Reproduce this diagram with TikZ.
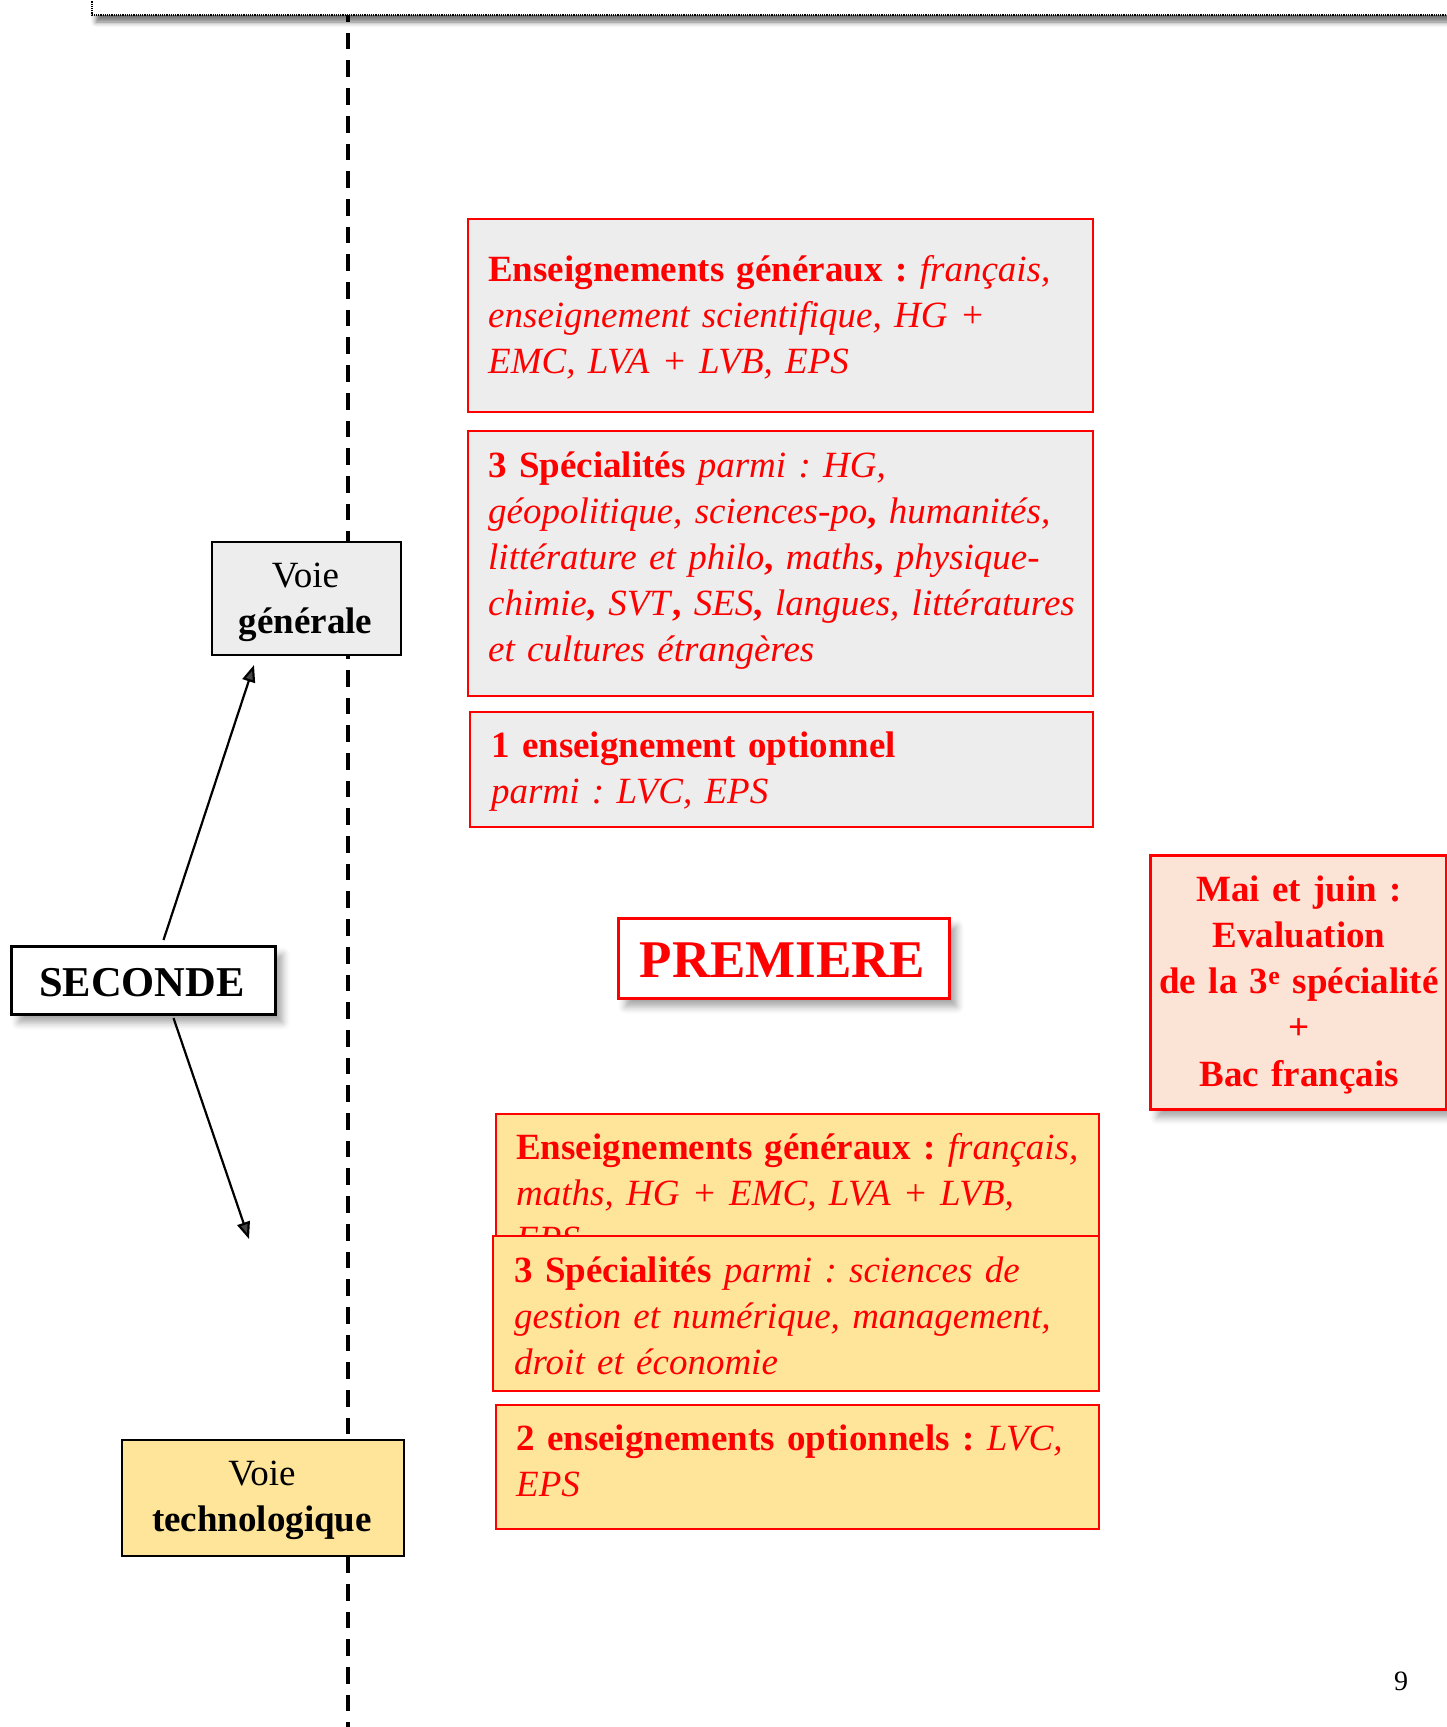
\documentclass[tikz,border=0pt]{standalone}
\usepackage{fontspec}
\setmainfont{Liberation Serif}
\usetikzlibrary{shadows.blur,arrows.meta}
\definecolor{gfill}{HTML}{EDEDED}
\definecolor{yfill}{HTML}{FFE599}
\definecolor{pfill}{HTML}{FBE4D5}
\definecolor{tred}{HTML}{FF0000}
\frenchspacing
\tikzset{
  redbox/.style={draw=tred, line width=2pt, rectangle, inner sep=0pt, anchor=north west},
  graybox/.style={redbox, fill=gfill},
  yelbox/.style={redbox, fill=yfill},
  voiebox/.style={draw=black, line width=2pt, rectangle, inner sep=0pt, anchor=north west},
  softshadow/.style={blur shadow={shadow xshift=7pt, shadow yshift=-8pt, shadow blur radius=7pt, shadow opacity=35}},
  bodytxt/.style={text=tred, inner sep=0pt, anchor=base west, align=left, text width=640pt,
    font=\fontsize{37}{46}\selectfont\frenchspacing},
  centertxt/.style={inner sep=0pt, anchor=base, align=center, text width=420pt,
    font=\fontsize{37}{46}\selectfont\frenchspacing},
  arr/.style={line width=2.2pt, -{Triangle[length=17pt,width=13pt]}},
  vline/.style={line width=3.5pt, dash pattern=on 16.7pt off 11pt},
}
\begin{document}
\begin{tikzpicture}[x=1pt,y=-1pt]
\useasboundingbox (0,0) rectangle (1446,1727);
% vertical dashed separator
\coordinate (vtop) at (348,5);
\coordinate (vbot) at (348,1727);
\draw[vline] (vtop) -- (vbot);
% top frame edge
\path[fill=white, draw=black, densely dotted, line width=1.2pt,
  blur shadow={shadow xshift=4pt, shadow yshift=-7pt, shadow blur radius=5pt, shadow opacity=55}]
  (92,-80) rectangle (1560,15);

% Voie generale
\node[voiebox, fill=gfill, minimum width=189pt, minimum height=113pt] (vg) at (211,541) {};
\node[centertxt] (vgt) at (305.5,587) {Voie\\\textbf{générale}};
% SECONDE
\node[draw=black, line width=3pt, fill=white, rectangle, inner sep=0pt, anchor=north west,
  minimum width=264pt, minimum height=68pt, softshadow] (sec) at (10,945) {};
\node[inner sep=0pt, anchor=base, font=\fontsize{42.5}{46}\selectfont\bfseries] (sect) at (142,996) {SECONDE};
% Voie technologique
\node[voiebox, fill=yfill, minimum width=282pt, minimum height=116pt] (vt) at (121,1439) {};
\node[centertxt] (vtt) at (262,1485) {Voie\\\textbf{technologique}};

% arrows
\coordinate (t2) at (249,1239);
\draw[arr] ([xshift=20pt,yshift=5pt]sec.north) -- ([xshift=-52.5pt,yshift=-9pt]vg.south);
\draw[arr] ([xshift=30pt,yshift=-2pt]sec.south) -- (t2);

% voie generale boxes
\node[graybox, minimum width=625pt, minimum height=193pt] (g1) at (467,218) {};
\node[bodytxt] (g1t) at (488,281) {\textbf{Enseignements généraux :} \textit{français,}\\
  \textit{enseignement scientifique, HG +}\\
  \textit{EMC, LVA + LVB, EPS}};
\node[graybox, minimum width=625pt, minimum height=265pt] (g2) at (467,430) {};
\node[bodytxt] (g2t) at (488,477) {\textbf{3 Spécialités} \textit{parmi : HG,}\\
  \textit{géopolitique, sciences-po}\textbf{,} \textit{humanités,}\\
  \textit{littérature et philo}\textbf{,} \textit{maths}\textbf{,} \textit{physique-}\\
  \textit{chimie}\textbf{,} \textit{SVT}\textbf{,} \textit{SES}\textbf{,} \textit{langues, littératures}\\
  \textit{et cultures étrangères}};
\node[graybox, minimum width=623pt, minimum height=115pt] (g3) at (469,711) {};
\node[bodytxt] (g3t) at (491,757) {\textbf{1 enseignement optionnel}\\
  \textit{parmi : LVC, EPS}};

% PREMIERE
\node[draw=tred, line width=3pt, fill=white, rectangle, inner sep=0pt, anchor=north west,
  minimum width=331pt, minimum height=80pt, softshadow] (prem) at (617,917) {};
\node[inner sep=0pt, anchor=base, text=tred, font=\fontsize{53}{56}\selectfont\bfseries] (premt) at (782.5,977) {PREMIERE};

% Mai et juin
\node[draw=tred, line width=2.5pt, fill=pfill, rectangle, inner sep=0pt, anchor=north west,
  minimum width=296pt, minimum height=254pt, softshadow] (mai) at (1149,854) {};
\node[centertxt, text=tred, font=\fontsize{37}{46.3}\selectfont\bfseries\frenchspacing] (mait) at (1299,901)
  {Mai et juin :\\Evaluation\\de la 3\textsuperscript{e} spécialité\\+\\Bac français};

% voie technologique boxes
\node[yelbox, minimum width=603pt, minimum height=190pt] (y1) at (495,1113) {};
\node[bodytxt] (y1t) at (516,1159) {\textbf{Enseignements généraux :} \textit{français,}\\
  \textit{maths, HG + EMC, LVA + LVB,}\\
  \textit{EPS}};
\node[yelbox, minimum width=606pt, minimum height=155pt] (y2) at (492,1235) {};
\node[bodytxt] (y2t) at (514,1282) {\textbf{3 Spécialités} \textit{parmi : sciences de}\\
  \textit{gestion et numérique, management,}\\
  \textit{droit et économie}};
\node[yelbox, minimum width=603pt, minimum height=124pt] (y3) at (495,1404) {};
\node[bodytxt] (y3t) at (516,1450) {\textbf{2 enseignements optionnels :} \textit{LVC,}\\
  \textit{EPS}};

% page number
\node[inner sep=0pt, anchor=base west, font=\fontsize{28}{32}\selectfont] (pnum) at (1394,1690) {9};
\end{tikzpicture}
\end{document}
